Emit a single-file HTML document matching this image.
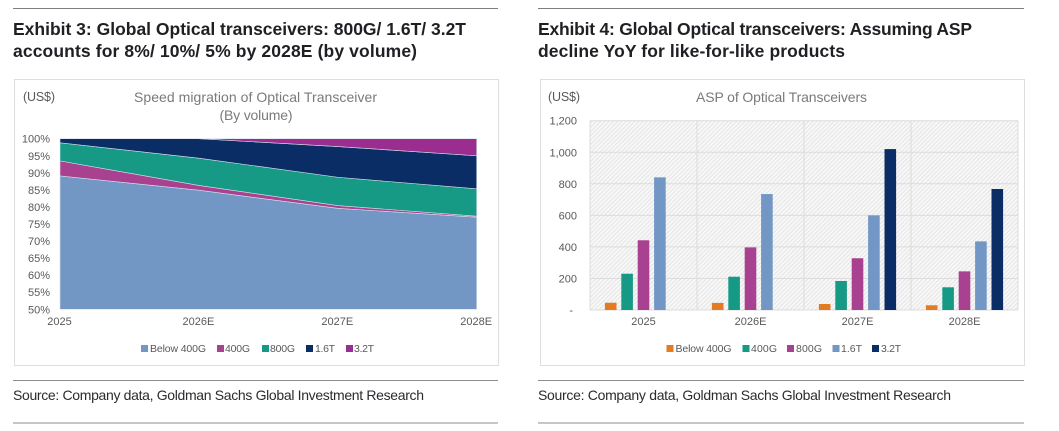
<!DOCTYPE html>
<html lang="en">
<head>
<meta charset="utf-8">
<title>Optical transceiver exhibits</title>
<style>
html,body{margin:0;padding:0;background:#fff;width:1059px;height:431px;overflow:hidden}
svg{display:block;font-family:"Liberation Sans",sans-serif}
.title{font-size:17.5px;font-weight:bold;fill:#1f1f24}
.source{font-size:14px;fill:#2b2b30}
.unit{font-size:12.5px;fill:#595959}
.chart-title{font-size:14px;fill:#7a7a7a;text-anchor:middle}
.tick{font-size:11px;fill:#595959}
.legend{font-size:10.5px;fill:#595959}
</style>
</head>
<body>
<svg id="page" width="1059" height="431" viewBox="0 0 1059 431" xmlns="http://www.w3.org/2000/svg">
<defs>
<pattern id="hatch" patternUnits="userSpaceOnUse" width="3" height="3" patternTransform="rotate(45)">
<rect width="3" height="3" fill="#f9f9f9"/>
<rect width="1.2" height="3" fill="#e6e6e6"/>
</pattern>
</defs>
<rect width="1059" height="431" fill="#fff"/>

<g>
<line x1="13" x2="498" y1="8.5" y2="8.5" stroke="#7f7f7f" stroke-width="1"/>
<text class="title" x="13" y="35" textLength="453" lengthAdjust="spacing">Exhibit 3: Global Optical transceivers: 800G/ 1.6T/ 3.2T</text>
<text class="title" x="13" y="57" textLength="404" lengthAdjust="spacing">accounts for 8%/ 10%/ 5% by 2028E (by volume)</text>
<rect x="14.5" y="79.5" width="484" height="286" fill="#fff" stroke="#dedede" stroke-width="1"/>
<text class="unit" x="23" y="101" textLength="32" lengthAdjust="spacing">(US$)</text>
<text class="chart-title" x="255.5" y="102" textLength="243" lengthAdjust="spacing">Speed migration of Optical Transceiver</text>
<text class="chart-title" x="256" y="120" textLength="73" lengthAdjust="spacing">(By volume)</text>
<g id="area-chart"></g>
<g>
<rect x="141" y="345" width="7" height="7" fill="#7297c5"/>
<text class="legend" x="150" y="352" textLength="56" lengthAdjust="spacing">Below 400G</text>
<rect x="217" y="345" width="7" height="7" fill="#a8418f"/>
<text class="legend" x="225" y="352" textLength="25" lengthAdjust="spacing">400G</text>
<rect x="262" y="345" width="7" height="7" fill="#169a86"/>
<text class="legend" x="270" y="352" textLength="25" lengthAdjust="spacing">800G</text>
<rect x="306" y="345" width="7" height="7" fill="#0a2d66"/>
<text class="legend" x="315" y="352" textLength="20" lengthAdjust="spacing">1.6T</text>
<rect x="346" y="345" width="7" height="7" fill="#9b2d90"/>
<text class="legend" x="354" y="352" textLength="20" lengthAdjust="spacing">3.2T</text>
</g>
<line x1="13" x2="498" y1="380.5" y2="380.5" stroke="#8c8c8c" stroke-width="1"/>
<text class="source" x="13" y="400" textLength="411" lengthAdjust="spacing">Source: Company data, Goldman Sachs Global Investment Research</text>
<line x1="13" x2="498" y1="423" y2="423" stroke="#8c8c8c" stroke-width="1"/>
</g>

<g>
<line x1="538" x2="1024" y1="8.5" y2="8.5" stroke="#7f7f7f" stroke-width="1"/>
<text class="title" x="538" y="35" textLength="434" lengthAdjust="spacing">Exhibit 4: Global Optical transceivers: Assuming ASP</text>
<text class="title" x="538" y="57" textLength="307" lengthAdjust="spacing">decline YoY for like-for-like products</text>
<rect x="540.5" y="79.5" width="484" height="286" fill="#fff" stroke="#dedede" stroke-width="1"/>
<text class="unit" x="548" y="101" textLength="32" lengthAdjust="spacing">(US$)</text>
<text class="chart-title" x="781.5" y="102" textLength="171" lengthAdjust="spacing">ASP of Optical Transceivers</text>
<g id="bar-chart"></g>
<g>
<rect x="666.5" y="345" width="7" height="7" fill="#e27b21"/>
<text class="legend" x="675.5" y="352" textLength="56" lengthAdjust="spacing">Below 400G</text>
<rect x="742.5" y="345" width="7" height="7" fill="#169a86"/>
<text class="legend" x="751" y="352" textLength="26" lengthAdjust="spacing">400G</text>
<rect x="787" y="345" width="7" height="7" fill="#a8418f"/>
<text class="legend" x="796" y="352" textLength="26" lengthAdjust="spacing">800G</text>
<rect x="832.5" y="345" width="7" height="7" fill="#7297c5"/>
<text class="legend" x="841" y="352" textLength="21" lengthAdjust="spacing">1.6T</text>
<rect x="872" y="345" width="7" height="7" fill="#0a2d66"/>
<text class="legend" x="881" y="352" textLength="20" lengthAdjust="spacing">3.2T</text>
</g>
<line x1="538" x2="1024" y1="380.5" y2="380.5" stroke="#8c8c8c" stroke-width="1"/>
<text class="source" x="538" y="400" textLength="413" lengthAdjust="spacing">Source: Company data, Goldman Sachs Global Investment Research</text>
<line x1="538" x2="1024" y1="423" y2="423" stroke="#8c8c8c" stroke-width="1"/>
</g>
</svg>

<script>
// Exhibit 3 data: share of volume (%)
const areaCategories = ['2025', '2026E', '2027E', '2028E'];
const areaBelow400G = [89.1, 84.9, 79.6, 77.0];
const area400G = [4.4, 1.4, 0.8, 0.3];
const area800G = [5.3, 8.0, 8.3, 8.0];
const area1p6T = [1.2, 5.7, 9.0, 9.7];
const area3p2T = [0, 0, 2.3, 5.0];
const areaTicks = [50, 55, 60, 65, 70, 75, 80, 85, 90, 95, 100];

// Exhibit 4 data: ASP (US$)
const barCategories = ['2025', '2026E', '2027E', '2028E'];
const barBelow400G = [46, 45, 38, 30];
const bar400G = [230, 211, 184, 144];
const bar800G = [442, 397, 328, 245];
const bar1p6T = [841, 735, 600, 435];
const bar3p2T = [null, null, 1020, 767];
const barTicks = [0, 200, 400, 600, 800, 1000, 1200];
const barTickLabels = ['-', '200', '400', '600', '800', '1,000', '1,200'];

const NS = 'http://www.w3.org/2000/svg';
function make(parent, tag, attrs, text) {
  const el = document.createElementNS(NS, tag);
  for (const k in attrs) el.setAttribute(k, attrs[k]);
  if (text !== undefined) el.textContent = text;
  parent.appendChild(el);
  return el;
}

// ---------- Area chart ----------
(function () {
  const root = document.getElementById('area-chart');
  const L = 60, R = 476.7, T = 138.7, B = 309.3;
  const yS = v => B - (Math.min(100, Math.max(50, v)) - 50) / 50 * (B - T);
  const xS = i => L + i * (R - L) / (areaCategories.length - 1);
  const layers = [
    { key: 'below-400g', vals: areaBelow400G, color: '#7297c5' },
    { key: '400g', vals: area400G, color: '#a8418f' },
    { key: '800g', vals: area800G, color: '#169a86' },
    { key: '1-6t', vals: area1p6T, color: '#0a2d66' },
    { key: '3-2t', vals: area3p2T, color: '#9b2d90' }
  ];
  let base = areaCategories.map(() => 0);
  layers.forEach(layer => {
    const top = base.map((b, i) => b + layer.vals[i]);
    const pts = [];
    top.forEach((v, i) => pts.push(xS(i).toFixed(2) + ',' + yS(v).toFixed(2)));
    for (let i = base.length - 1; i >= 0; i--) pts.push(xS(i).toFixed(2) + ',' + yS(base[i]).toFixed(2));
    const poly = make(root, 'polygon', { points: pts.join(' '), fill: layer.color, stroke: '#d9dfea', 'stroke-width': '0.6' });
    
    
    base = top;
  });
  areaTicks.forEach(t => {
    const lab = make(root, 'text', { class: 'tick', x: 50, y: yS(t) + 4, 'text-anchor': 'end' }, t + '%');
    
    
  });
  areaCategories.forEach((c, i) => {
    const lab = make(root, 'text', { class: 'tick', x: xS(i) - 0.5, y: 325, 'text-anchor': 'middle' }, c);
    
    
  });
})();

// ---------- Bar chart ----------
(function () {
  const root = document.getElementById('bar-chart');
  const L = 590, R = 1018, T = 120.7, B = 310;
  const yS = v => B - v / 1200 * (B - T);
  const groupW = (R - L) / barCategories.length;
  const barW = 11.6, step = 16.4;
  const bg = make(root, 'rect', { x: L, y: T, width: R - L, height: B - T, fill: 'url(#hatch)' });
  
  
  barTicks.forEach((t, i) => {
    const g = make(root, 'line', { x1: L, x2: R, y1: yS(t), y2: yS(t), stroke: '#dcdcdc', 'stroke-width': '1' });
    
    
    const lab = make(root, 'text', { class: 'tick', x: i === 0 ? 573 : 577, y: yS(t) + 4, 'text-anchor': 'end' }, barTickLabels[i]);
    
    
  });
  for (let i = 0; i <= barCategories.length; i++) {
    const x = L + i * groupW;
    const g = make(root, 'line', { x1: x, x2: x, y1: T, y2: B, stroke: '#dcdcdc', 'stroke-width': '1' });
    
    
  }
  const series = [
    { key: 'below-400g', vals: barBelow400G, color: '#e27b21' },
    { key: '400g', vals: bar400G, color: '#169a86' },
    { key: '800g', vals: bar800G, color: '#a8418f' },
    { key: '1-6t', vals: bar1p6T, color: '#7297c5' },
    { key: '3-2t', vals: bar3p2T, color: '#0a2d66' }
  ];
  barCategories.forEach((c, gi) => {
    const cx = L + (gi + 0.5) * groupW;
    series.forEach((s, si) => {
      const v = s.vals[gi];
      if (v === null) return;
      const x = cx + (si - 2) * step - barW / 2;
      const bar = make(root, 'rect', { x: x, y: yS(v), width: barW, height: B - yS(v), fill: s.color });
      
      
    });
    const lab = make(root, 'text', { class: 'tick', x: cx, y: 325, 'text-anchor': 'middle' }, c);
    
    
  });
})();
</script>
</body>
</html>
